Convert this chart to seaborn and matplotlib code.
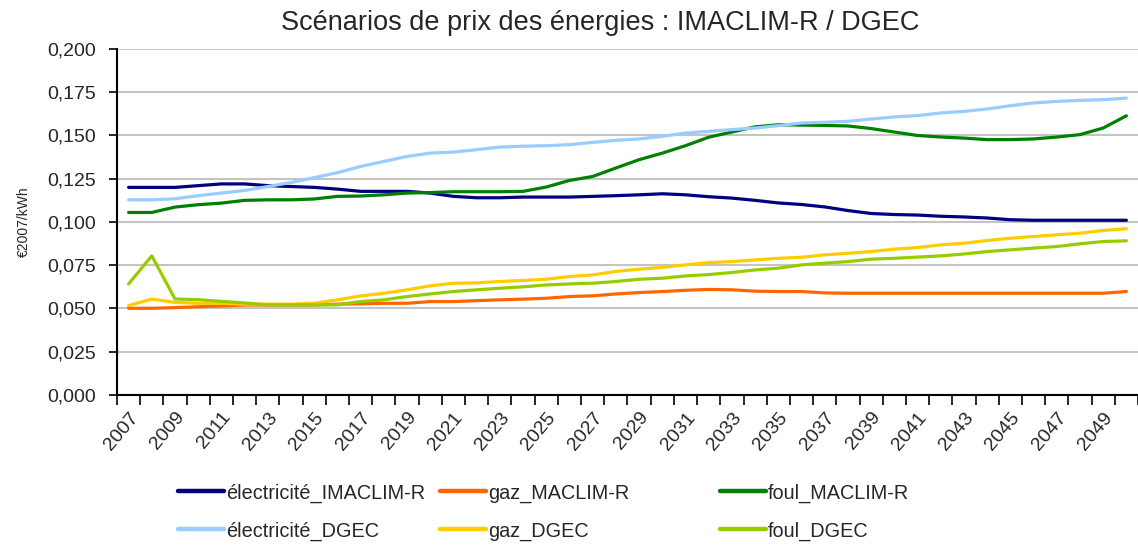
import matplotlib
matplotlib.use("Agg")
import matplotlib.pyplot as plt
import seaborn as sns
import pandas as pd
import numpy as np
from matplotlib.ticker import FuncFormatter, FixedLocator
from matplotlib.lines import Line2D

years = list(range(2007, 2051))

elec_imaclim = [0.120, 0.120, 0.120, 0.121, 0.122, 0.122, 0.121, 0.1205, 0.120, 0.119,
                0.1177, 0.1177, 0.1177, 0.1167, 0.1148, 0.1140, 0.1140, 0.1144, 0.1144, 0.1144,
                0.1148, 0.1152, 0.1157, 0.1163, 0.1157, 0.1146, 0.1138, 0.1125, 0.1110, 0.1101,
                0.1087, 0.1066, 0.1049, 0.1043, 0.1040, 0.1033, 0.1029, 0.1023, 0.1013, 0.1010,
                0.1010, 0.1010, 0.1010, 0.1010]
gaz_imaclim = [0.0501, 0.0501, 0.0505, 0.0510, 0.0515, 0.0520, 0.0520, 0.0520, 0.0520, 0.0525,
               0.0527, 0.0530, 0.0530, 0.0540, 0.0540, 0.0545, 0.0550, 0.0554, 0.0559, 0.0569,
               0.0573, 0.0584, 0.0592, 0.0598, 0.0605, 0.0610, 0.0608, 0.0600, 0.0598, 0.0598,
               0.0590, 0.0588, 0.0588, 0.0588, 0.0588, 0.0588, 0.0588, 0.0588, 0.0588, 0.0588,
               0.0588, 0.0588, 0.0588, 0.0598]
foul_imaclim = [0.1055, 0.1055, 0.1086, 0.1100, 0.1109, 0.1125, 0.1128, 0.1128, 0.1133, 0.1148,
                0.1150, 0.1157, 0.1167, 0.1170, 0.1175, 0.1175, 0.1175, 0.1177, 0.1202, 0.1240,
                0.1263, 0.1312, 0.1360, 0.1398, 0.1441, 0.1490, 0.1520, 0.1550, 0.1562, 0.1560,
                0.1558, 0.1555, 0.1540, 0.1520, 0.1500, 0.1491, 0.1485, 0.1476, 0.1476, 0.1480,
                0.1491, 0.1505, 0.1543, 0.1614]
elec_dgec = [0.1128, 0.1128, 0.1134, 0.1152, 0.1167, 0.1182, 0.1205, 0.1228, 0.1256, 0.1285,
             0.1321, 0.1350, 0.1379, 0.1398, 0.1404, 0.1418, 0.1433, 0.1438, 0.1441, 0.1447,
             0.1460, 0.1472, 0.1480, 0.1495, 0.1514, 0.1524, 0.1534, 0.1543, 0.1557, 0.1572,
             0.1576, 0.1582, 0.1595, 0.1607, 0.1615, 0.1630, 0.1639, 0.1653, 0.1672, 0.1688,
             0.1697, 0.1703, 0.1707, 0.1716]
gaz_dgec = [0.0517, 0.0554, 0.0535, 0.0530, 0.0530, 0.0525, 0.0525, 0.0525, 0.0530, 0.0550,
            0.0573, 0.0588, 0.0608, 0.0631, 0.0646, 0.0648, 0.0656, 0.0662, 0.0669, 0.0685,
            0.0694, 0.0714, 0.0727, 0.0738, 0.0752, 0.0765, 0.0771, 0.0781, 0.0790, 0.0796,
            0.0810, 0.0819, 0.0829, 0.0843, 0.0852, 0.0868, 0.0877, 0.0893, 0.0906, 0.0916,
            0.0926, 0.0935, 0.0951, 0.0961]
foul_dgec = [0.0642, 0.0804, 0.0555, 0.0551, 0.0541, 0.0532, 0.0521, 0.0521, 0.0521, 0.0521,
             0.0540, 0.0550, 0.0569, 0.0584, 0.0598, 0.0608, 0.0617, 0.0625, 0.0636, 0.0642,
             0.0646, 0.0656, 0.0669, 0.0675, 0.0688, 0.0696, 0.0708, 0.0723, 0.0733, 0.0752,
             0.0762, 0.0771, 0.0785, 0.0790, 0.0797, 0.0804, 0.0815, 0.0829, 0.0839, 0.0849,
             0.0858, 0.0874, 0.0887, 0.0891]

series_names = ["électricité_IMACLIM-R", "gaz_MACLIM-R", "foul_MACLIM-R",
                "électricité_DGEC", "gaz_DGEC", "foul_DGEC"]
series_values = [elec_imaclim, gaz_imaclim, foul_imaclim, elec_dgec, gaz_dgec, foul_dgec]
colors = ["#000080", "#FF6600", "#008000", "#99CCFF", "#FFCC00", "#99CC00"]

title = "Scénarios de prix des énergies : IMACLIM-R / DGEC"
ylabel = "€2007/kWh"

rows = []
for name, vals in zip(series_names, series_values):
    for i, (yr, v) in enumerate(zip(years, vals)):
        rows.append({"pos": i, "year": yr, "value": v, "series": name})
df = pd.DataFrame(rows)

sns.set_theme(style="white")
plt.rcParams['font.family'] = ['Liberation Sans', 'DejaVu Sans']

fig = plt.figure(figsize=(11.38, 5.46), dpi=100)
ax = fig.add_axes([0.1028, 0.2766, 0.8972, 0.6337])

sns.lineplot(data=df, x="pos", y="value", hue="series", hue_order=series_names,
             palette=dict(zip(series_names, colors)), linewidth=2.3, ax=ax, legend=False)

ax.set_xlim(-0.5, len(years) - 0.5)
ax.set_ylim(0, 0.2)
ax.set_yticks(np.arange(0, 0.2001, 0.025))
ax.yaxis.set_major_formatter(FuncFormatter(lambda v, p: f"{v:.3f}".replace(".", ",")))
ax.grid(axis="y", color="#C4C4C4", linewidth=1.5)
ax.set_axisbelow(True)

label_pos = [i for i, y in enumerate(years) if y % 2 == 1]
ax.set_xticks(label_pos)
ax.set_xticklabels([str(years[i]) for i in label_pos], rotation=50, ha="right",
                   rotation_mode="anchor", fontsize=14)
ax.xaxis.set_minor_locator(FixedLocator(np.arange(-0.5, len(years), 1)))
ax.tick_params(axis="x", which="major", length=0, pad=10)
ax.tick_params(axis="x", which="minor", length=7, width=1.2, color="black", direction="out", bottom=True)
ax.tick_params(axis="y", length=6, width=1.2, color="black", direction="out", left=True,
               labelsize=14, pad=9)

for s in ["top", "right"]:
    ax.spines[s].set_visible(False)
for s in ["left", "bottom"]:
    ax.spines[s].set_color("black")
    ax.spines[s].set_linewidth(1.5)

ax.set_xlabel("")
ax.set_ylabel(ylabel, fontsize=10, labelpad=12)
fig.text(600 / 1138, 1 - 23 / 546, title, fontsize=19.5, ha="center", va="center")

col_x = [178 / 1138, 440 / 1138, 720 / 1138]
for c in range(3):
    idx = [c, c + 3]
    handles = [Line2D([0], [0], color=colors[k], linewidth=3.2) for k in idx]
    labels = [series_names[k] for k in idx]
    leg = fig.legend(handles, labels, loc="center left", bbox_to_anchor=(col_x[c], 1 - 512 / 546),
                     frameon=False, fontsize=14.3, handlelength=2.3, handletextpad=0.1,
                     labelspacing=0.95, borderpad=0, borderaxespad=0)

fig.savefig("out.png", dpi=100)
